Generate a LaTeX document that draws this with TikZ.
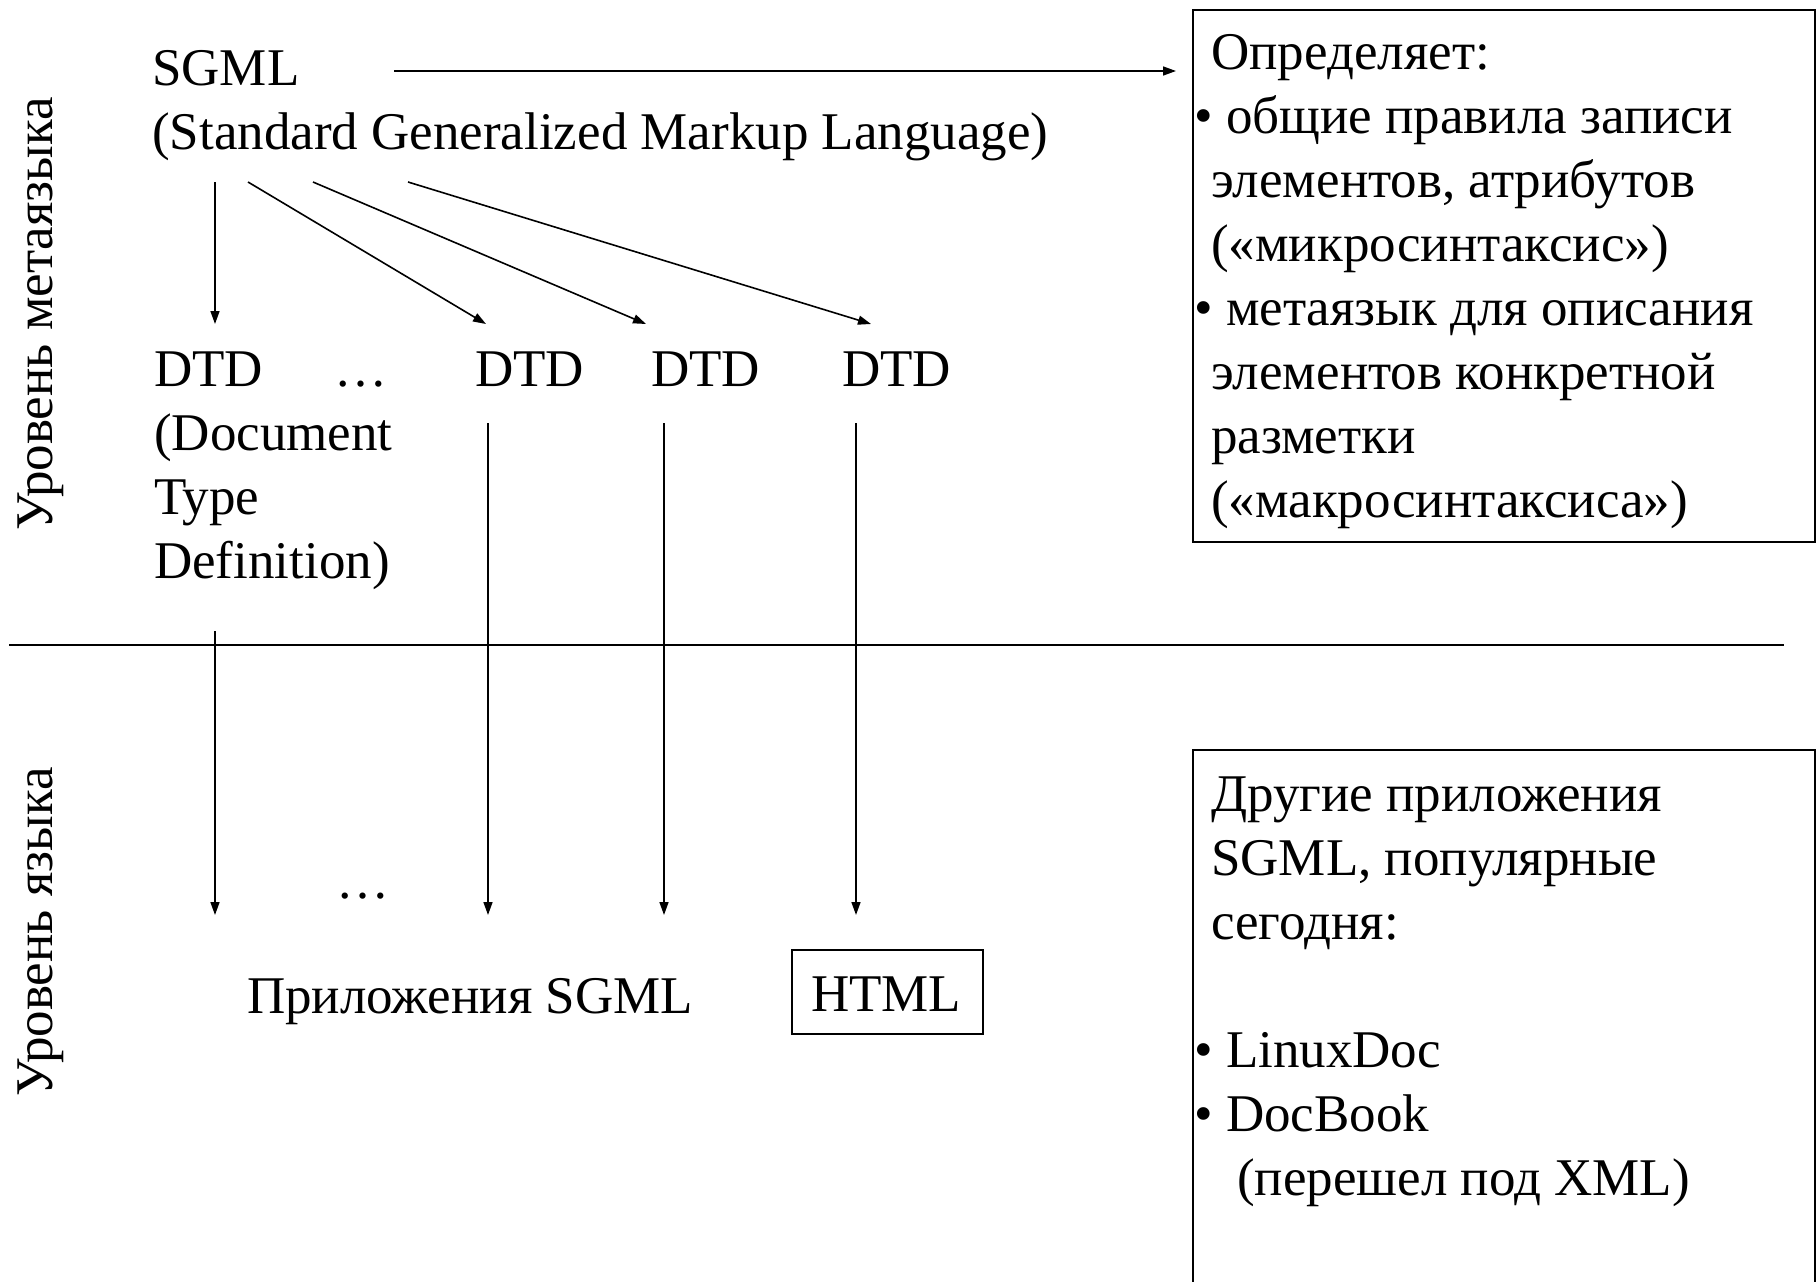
\documentclass[tikz,border=0pt]{standalone}
\usepackage{fontspec}
\setmainfont{Liberation Serif}
\usetikzlibrary{arrows.meta}
\begin{document}
\begin{tikzpicture}[x=1pt,y=-1pt,
  txt/.style={inner sep=0pt, anchor=base west, align=left, font=\fontsize{53}{64}\selectfont},
  side/.style={inner sep=0pt, anchor=base, rotate=90, font=\fontsize{53}{64}\selectfont},
  arr/.style={line width=1.6pt, -{Triangle[length=13pt,width=9pt]}},
  ln/.style={line width=1.6pt},
  boxed/.style={draw, line width=2pt, inner sep=0pt, anchor=north west}]
\useasboundingbox (0,0) rectangle (1816,1282);

% side labels
\node[side] (meta) at (52,314) {Уровень метаязыка};
\node[side] (lang) at (52,932) {Уровень языка};

% divider
\coordinate (d0) at (9,645);
\coordinate (d1) at (1784,645);
\draw[ln] (d0) -- (d1);

% SGML (anchored on the baseline of its last line)
\node[txt] (sgml) at (152,149) {SGML\\(Standard Generalized Markup Language)};

% definition box
\node[boxed, minimum width=622pt, minimum height=532pt] (defbox) at (1192,9) {};
\node[txt] (deftext) at (1194,517) {\hspace*{17pt}Определяет:\\
• общие правила записи\\
\hspace*{17pt}элементов, атрибутов\\
\hspace*{17pt}(«микросинтаксис»)\\
• метаязык для описания\\
\hspace*{17pt}элементов конкретной\\
\hspace*{17pt}разметки\\
\hspace*{17pt}(«макросинтаксиса»)};

% other applications box
\node[boxed, minimum width=622pt, minimum height=545pt] (appbox) at (1192,749) {};
\node[txt] (apptext) at (1194,1195) {\hspace*{17pt}Другие приложения\\
\hspace*{17pt}SGML, популярные\\
\hspace*{17pt}сегодня:\\[64pt]
• LinuxDoc\\
• DocBook\\
\hspace*{43pt}(перешел под XML)};

% DTD row
\node[txt] (dtd1) at (154,578) {DTD\\(Document\\Type\\Definition)};
\node[txt] (dots1) at (334,386) {…};
\node[txt] (dtd2) at (475,386) {DTD};
\node[txt] (dtd3) at (651,386) {DTD};
\node[txt] (dtd4) at (842,386) {DTD};

% lower row
\node[txt] (dots2) at (336,898) {…};
\node[txt] (apps) at (247,1013) {Приложения SGML};
\node[draw, line width=2pt, minimum width=191pt, minimum height=84pt, inner sep=0pt] (html) at (887.5,992) {};
\node[txt] (htmltxt) at (811,1011) {HTML};

% SGML -> definition box
\coordinate (a0) at (394,71);
\draw[arr, shorten >=16pt] (a0) -- (defbox.west |- a0);

% SGML -> DTDs
\coordinate (s1) at (215,182);
\coordinate (s2) at (248,182);
\coordinate (s3) at (313,182);
\coordinate (s4) at (408,182);
\coordinate (e1) at (215,324);
\coordinate (e2) at (486,324);
\coordinate (e3) at (646,324);
\coordinate (e4) at (871,324);
\draw[arr] (s1) -- (e1);
\draw[arr] (s2) -- (e2);
\draw[arr] (s3) -- (e3);
\draw[arr] (s4) -- (e4);

% DTDs -> language level
\coordinate (t1) at (215,631);
\coordinate (t2) at (488,423);
\coordinate (t3) at (664,423);
\coordinate (t4) at (856,423);
\coordinate (b1) at (215,915);
\coordinate (b2) at (488,915);
\coordinate (b3) at (664,915);
\coordinate (b4) at (856,915);
\draw[arr] (t1) -- (b1);
\draw[arr] (t2) -- (b2);
\draw[arr] (t3) -- (b3);
\draw[arr] (t4) -- (b4);
\end{tikzpicture}
\end{document}
